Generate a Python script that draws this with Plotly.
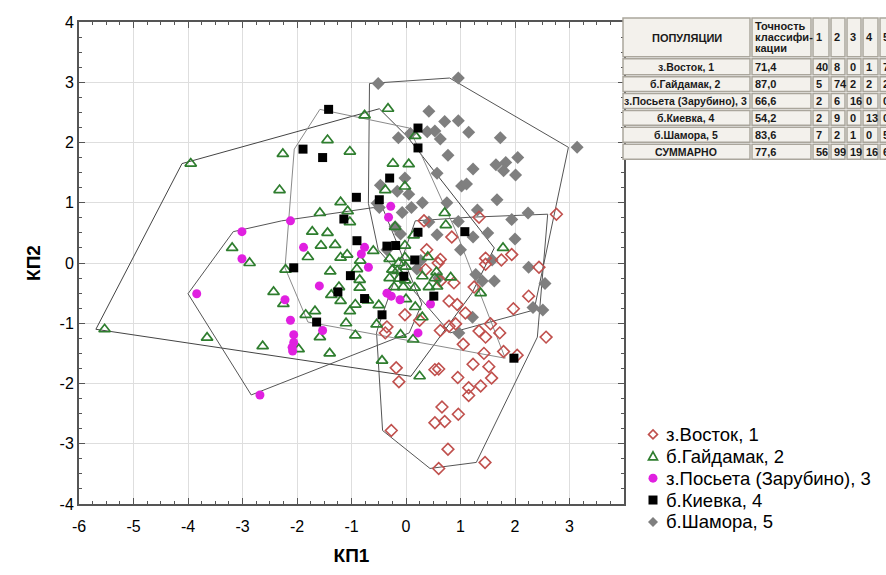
import plotly.graph_objects as go

# ---------------- data ----------------
groups = ["з.Восток, 1", "б.Гайдамак, 2", "з.Посьета (Зарубино), 3", "б.Киевка, 4", "б.Шамора, 5"]

vostok_x = [0.33, 1.34, 0.84, 0.38, 0.63, 0.59, 0.36, 1.46, 1.46, 0.63, 0.88, 0.79, 0.94, 1.09, -0.02,
            0.91, 0.79, -0.35, -0.38, 0.63, 1.34, 1.46, 2.76, 1.94, 1.75, 2.44, 1.97, 1.72, 2.57, 1.55,
            1.43, 1.23, 1.52, 1.57, 1.37, 1.15, 1.15, -0.18, -0.13, 0.53, 0.60, 0.66, 0.96, 0.53, 0.71,
            -0.27, 0.77, 0.60, 1.45, 1.79, 2.04, 1.25, 0.25, 1.05, 2.25, 0.95]
vostok_y = [0.70, 0.76, 0.43, 0.22, 0.06, 0.00, -0.11, 0.08, -0.02, -0.30, -0.33, -0.63, -0.69, -0.83, -0.86,
            -1.01, -1.05, -1.06, -1.16, -1.12, -1.13, -1.23, 0.81, 0.14, 0.05, -0.07, -0.76, -1.16, -1.23, -1.01,
            -1.50, -1.68, -1.72, -1.91, -2.04, -2.07, -2.20, -1.74, -1.97, -1.77, -1.76, -2.39, -2.51, -2.65, -2.63,
            -2.78, -3.09, -3.41, -3.31, -1.47, -1.53, -0.40, -0.95, -1.35, -0.55, -1.90]

gaidamak_x = [-3.95, -3.19, -2.87, -5.53, -3.65, -2.63, -0.76, -1.44, -2.26, -1.03, -2.32, -1.20,
              -0.33, 0.17, -0.24, 0.05, -0.02, -0.38, -1.07, -1.03, -1.58, -1.72, -1.44, -1.56, -1.20,
              -1.08, -0.84, -2.21, -1.39, -0.85, -0.85, -1.23, -1.37, -1.20, -2.43, -2.25, -0.70, -0.93,
              -1.03, -1.67, -1.84, -1.58, -0.93, -0.54, -1.97, -1.40, 0.71, 0.73, 0.14, -0.02, -0.30,
              -0.02, -0.13, -0.01, -0.25, -0.16, -0.30, -0.13, -0.01, 0.30, 0.56, 0.53, 0.82, -0.05, 0.16,
              0.42, 0.57, -0.22, 1.37, 0.17, -0.10, 0.13, -0.44, 0.25, 1.78, -0.90, -1.30, -0.50, 0.30,
              -0.20, -1.80, -0.60, 0.40, -1.10, 0.00]
gaidamak_y = [1.65, 0.25, 0.00, -1.10, -1.24, -1.38, 2.45, 2.04, 1.81, 1.85, 1.21, 1.01,
              2.56, 2.11, 1.65, 1.64, 1.27, 1.21, 0.86, 0.68, 0.83, 0.52, 0.50, 0.29, 0.09,
              0.14, 0.04, -0.11, -0.14, -0.28, -0.41, -0.40, -0.53, -0.63, -0.48, -0.68, -0.62, -0.69,
              -0.80, -0.80, -0.86, -1.23, -1.20, -1.02, -1.43, -1.50, 0.83, 0.63, 0.46, 0.29, 0.07,
              0.09, 0.00, -0.06, -0.11, -0.13, -0.25, -0.26, -0.29, -0.22, -0.15, -0.25, -0.24, -0.40, -0.41,
              -0.40, -0.39, -0.40, -0.50, -0.73, -1.19, -1.27, -1.62, -1.88, 0.25, -0.10, 0.30, -0.70, -0.90,
              0.60, 0.10, 0.20, 0.10, -1.00, -0.60]

poseta_x = [-3.01, -3.01, -3.84, -2.68, -2.12, -1.88, -0.76, -0.82, -0.69, -1.59, -2.22, -2.12,
            -2.06, -1.53, -2.06, -2.08, -0.28, -0.32, -0.35, -0.27, -0.11, 0.45, 0.22, -2.09]
poseta_y = [0.52, 0.07, -0.51, -2.19, 0.70, 0.26, 0.26, 0.15, -0.07, -0.38, -0.61, -0.95,
            -1.19, -1.12, -1.32, -1.46, 0.94, 0.76, -0.50, -0.55, -0.61, -0.68, -1.16, -1.40]

kievka_x = [-1.42, -1.89, -1.53, -0.91, 0.22, 0.22, -0.30, -0.49, -1.14, -0.90, -2.06, -1.02,
            -1.25, -0.76, -1.64, 0.22, 1.08, -0.35, -0.19, 0.16, -0.04, 0.51, -0.44, 1.98]
kievka_y = [2.55, 1.89, 1.75, 1.09, 2.24, 1.91, 1.41, 1.05, 0.73, 0.37, -0.08, -0.21,
            -0.48, -0.59, -0.98, 0.51, 0.52, 0.28, 0.29, 0.05, -0.22, -0.55, -0.86, -1.58]

shamora_x = [-0.51, 0.96, 0.42, 0.71, 0.96, 1.15, 0.39, 0.53, 0.63, -0.14, 0.08, 0.77, 0.57, 1.23,
             1.02, 1.11, -0.02, -0.47, -0.16, 0.05, 1.73, 2.05, 1.65, 1.83, 1.79, 2.01, 3.14, 1.67,
             1.94, 2.24, 1.58, 2.25, 2.55, 1.62, 2.33, 2.51, -0.49, -0.07, 0.10, 0.42, 0.96, 1.31,
             -0.10, 0.57, 1.23, 1.00, -0.35, 0.27, 0.60, 1.28, 1.22, 0.97, -0.53, -0.20, 0.30, 1.50,
             0.20, 2.00, 1.40, 0.75]
shamora_y = [2.98, 3.07, 2.52, 2.35, 2.36, 2.17, 2.18, 2.19, 2.06, 2.08, 2.15, 1.79, 1.49, 1.56,
             1.28, 1.31, 1.41, 1.29, 1.19, 1.14, 2.08, 1.75, 1.63, 1.67, 1.53, 1.46, 1.92, 1.05,
             0.72, 0.83, 0.05, -0.07, -0.34, -0.30, -0.74, -0.78, 0.92, 0.84, 0.92, 0.68, 0.69, 0.88,
             0.48, 0.47, 0.43, 0.22, 0.22, 0.04, -0.25, -0.19, -0.90, -1.16, 0.99, 0.60, 1.00, 0.50,
             -0.10, 0.40, -0.30, 1.00]

x_ticks = [-6, -5, -4, -3, -2, -1, 0, 1, 2, 3]
x_tick_labels = ["-6", "-5", "-4", "-3", "-2", "-1", "0", "1", "2", "3"]
y_ticks = [-4, -3, -2, -1, 0, 1, 2, 3, 4]
y_tick_labels = ["-4", "-3", "-2", "-1", "0", "1", "2", "3", "4"]

# classification table
tbl_header = ["ПОПУЛЯЦИИ", "Точность", "классифи-", "кации"]
tbl_cols = ["1", "2", "3", "4", "5"]
tbl_pop = ["з.Восток, 1", "б.Гайдамак, 2", "з.Посьета (Зарубино), 3", "б.Киевка, 4", "б.Шамора, 5", "СУММАРНО"]
tbl_acc = ["71,4", "87,0", "66,6", "54,2", "83,6", "77,6"]
tbl_mat = [[40, 8, 0, 1, 7],
           [5, 74, 2, 2, 2],
           [2, 6, 16, 0, 0],
           [2, 9, 0, 13, 0],
           [7, 2, 1, 0, 51],
           [56, 99, 19, 16, 60]]

# ---------------- helpers ----------------
W, H = 886, 575
PL, PR, PT, PB = 79, 624, 22, 507     # plot area, page pixels
HULL_DX = -0.16                       # the reference draws its hulls slightly left of the points

FONT = "Arial, Liberation Sans, sans-serif"


def fx(p):
    return (p - PL) / (PR - PL)


def fy(p):
    return (PB - p) / (PB - PT)


def hull(xs, ys):
    pts = sorted(set(zip(xs, ys)))

    def cross(o, a, b):
        return (a[0] - o[0]) * (b[1] - o[1]) - (a[1] - o[1]) * (b[0] - o[0])
    lower = []
    for p in pts:
        while len(lower) >= 2 and cross(lower[-2], lower[-1], p) <= 0:
            lower.pop()
        lower.append(p)
    upper = []
    for p in reversed(pts):
        while len(upper) >= 2 and cross(upper[-2], upper[-1], p) <= 0:
            upper.pop()
        upper.append(p)
    h = lower[:-1] + upper[:-1]
    h.append(h[0])
    return [p[0] + HULL_DX for p in h], [p[1] for p in h]


fig = go.Figure()

styles = {
    0: dict(symbol="diamond-open", size=9, color="#c0504d", line=dict(width=1.6)),
    1: dict(symbol="triangle-up-open", size=10, color="#2e7d2e", line=dict(width=1.7)),
    2: dict(symbol="circle", size=9, color="#e020e0"),
    3: dict(symbol="square", size=9, color="#000000"),
    4: dict(symbol="diamond", size=10, color="#7f7f7f"),
}
hull_col = {0: "#555555", 1: "#444444", 2: "#555555", 3: "#8a8a8a", 4: "#555555"}
series = {0: (vostok_x, vostok_y), 1: (gaidamak_x, gaidamak_y), 2: (poseta_x, poseta_y),
          3: (kievka_x, kievka_y), 4: (shamora_x, shamora_y)}
draw_order = [4, 0, 1, 2, 3]

for gi in draw_order:
    xs, ys = series[gi]
    hx, hy = hull(xs, ys)
    fig.add_trace(go.Scatter(x=hx, y=hy, mode="lines", line=dict(color=hull_col[gi], width=1),
                             showlegend=False, hoverinfo="skip"))

for gi in draw_order:
    xs, ys = series[gi]
    fig.add_trace(go.Scatter(x=xs, y=ys, mode="markers", name=groups[gi], marker=styles[gi],
                             showlegend=False))

axis_common = dict(
    showgrid=True, gridcolor="#dedede", gridwidth=1,
    zeroline=False, showline=True, linecolor="#555555", linewidth=2,
    mirror="ticks", ticks="inside", ticklen=6, tickcolor="#555555",
    tickfont=dict(family=FONT, size=16, color="#000000"),
    minor=dict(ticks="inside", ticklen=3, dtick=0.25, tickcolor="#555555", showgrid=False),
)

fig.update_xaxes(range=[-6, 4], tickvals=x_ticks, ticktext=x_tick_labels, ticklabelstandoff=7,
                 title=dict(text="<b>КП1</b>", font=dict(family=FONT, size=19, color="#000"), standoff=14),
                 **axis_common)
fig.update_yaxes(range=[-4, 4], tickvals=y_ticks, ticktext=y_tick_labels,
                 title=dict(text="<b>КП2</b>", font=dict(family=FONT, size=19, color="#000"), standoff=14),
                 **axis_common)

# ---------------- table drawn with shapes + annotations ----------------
col_edges = [622, 751, 812, 830, 846, 862, 879, 905]
row_edges = [17, 58, 76, 93, 110, 127, 144, 161]
shapes = []
ann = []
cell_fill = "#f3f1ec"
cell_line = "#aaa69c"
for r in range(len(row_edges) - 1):
    for c in range(len(col_edges) - 1):
        x0, x1 = col_edges[c] + 1, col_edges[c + 1] - 1
        y0, y1 = row_edges[r] + 1, row_edges[r + 1] - 1
        shapes.append(dict(type="rect", xref="paper", yref="paper",
                           x0=fx(x0), x1=fx(x1), y0=fy(y1), y1=fy(y0),
                           fillcolor=cell_fill, line=dict(color=cell_line, width=1.5), layer="above"))


def txt(x, y, s, anchor="left", size=11, bold=True, color="#1a1a1a"):
    ann.append(dict(x=fx(x), y=fy(y), xref="paper", yref="paper",
                    text=("<b>%s</b>" % s) if bold else s,
                    showarrow=False, xanchor=anchor, yanchor="middle",
                    font=dict(family=FONT, size=size, color=color)))


txt(687, 38, tbl_header[0], "center", 11)
txt(753, 26, tbl_header[1])
txt(753, 37, tbl_header[2])
txt(753, 48, tbl_header[3])
for i, c in enumerate(tbl_cols):
    txt(col_edges[i + 2] + 2, 37, c)
for r in range(len(tbl_pop)):
    yc = (row_edges[r + 1] + row_edges[r + 2]) / 2
    txt(686, yc, tbl_pop[r], "center", 10.5)
    txt(753, yc, tbl_acc[r])
    for c in range(5):
        txt(col_edges[c + 2] + 2, yc, str(tbl_mat[r][c]))

# ---------------- legend (text + pixel-sized symbols) ----------------
leg_y = [437, 459, 481, 503, 525]
leg_mx, leg_tx = 653, 664
for gi in range(5):
    yc = leg_y[gi]
    txt(leg_tx, yc, groups[gi], "left", 18.5, bold=False, color="#000000")
    base = dict(xref="paper", yref="paper", xsizemode="pixel", ysizemode="pixel",
                xanchor=fx(leg_mx), yanchor=fy(yc), layer="above")
    if gi == 0:
        shapes.append(dict(base, type="path", path="M 0 4.5 L 4.5 0 L 0 -4.5 L -4.5 0 Z",
                           line=dict(color="#c0504d", width=1.6), fillcolor="rgba(0,0,0,0)"))
    elif gi == 1:
        shapes.append(dict(base, type="path", path="M 0 4.5 L 4.5 -3.5 L -4.5 -3.5 Z",
                           line=dict(color="#2e7d2e", width=1.7), fillcolor="rgba(0,0,0,0)"))
    elif gi == 2:
        shapes.append(dict(base, type="circle", x0=-4.5, x1=4.5, y0=-4.5, y1=4.5,
                           line=dict(color="#e020e0", width=0), fillcolor="#e020e0"))
    elif gi == 3:
        shapes.append(dict(base, type="rect", x0=-4.5, x1=4.5, y0=-4.5, y1=4.5,
                           line=dict(color="#000000", width=0), fillcolor="#000000"))
    else:
        shapes.append(dict(base, type="path", path="M 0 5 L 5 0 L 0 -5 L -5 0 Z",
                           line=dict(color="#7f7f7f", width=0), fillcolor="#7f7f7f"))

fig.update_layout(
    width=W, height=H,
    margin=dict(l=PL, r=W - PR, t=PT, b=H - PB, pad=0),
    paper_bgcolor="white", plot_bgcolor="white",
    shapes=shapes, annotations=ann,
    showlegend=False,
)

fig.write_html(
    "out.html",
    config={"displayModeBar": False},
    post_script=("document.documentElement.style.margin='0';document.body.style.margin='0';"
                 "document.documentElement.style.overflow='hidden';document.body.style.overflow='hidden';"),
)
